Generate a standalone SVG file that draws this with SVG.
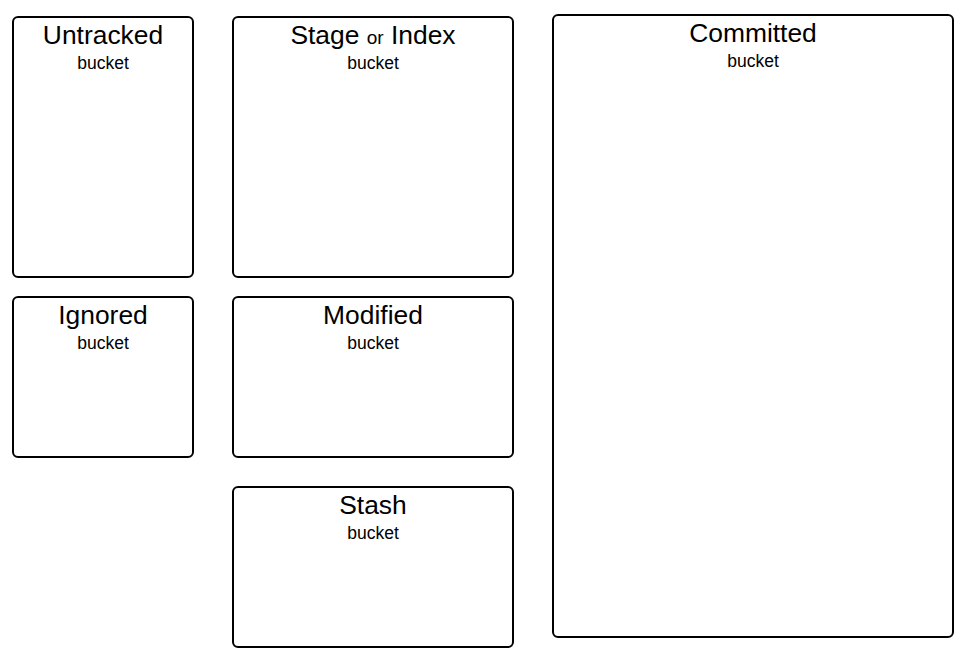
<svg xmlns="http://www.w3.org/2000/svg" width="976" height="659" viewBox="0 0 976 659">
<style>
.box{fill:#fff;stroke:#000;stroke-width:2}
.t{font-family:"Liberation Sans",Arial,sans-serif;font-size:26.4px;text-anchor:middle;fill:#000}
.s{font-family:"Liberation Sans",Arial,sans-serif;font-size:17.5px;text-anchor:middle;fill:#000}
.o{font-size:19px}
</style>
<rect width="976" height="659" fill="#fff"/>
<g id="untracked"><rect class="box" x="13" y="17" width="180" height="260" rx="5"/><text class="t" x="103" y="44">Untracked</text><text class="s" x="103" y="69">bucket</text></g>
<g id="stage"><rect class="box" x="233" y="17" width="280" height="260" rx="5"/><text class="t" x="373" y="44">Stage <tspan class="o">or</tspan> Index</text><text class="s" x="373" y="69">bucket</text></g>
<g id="committed"><rect class="box" x="553" y="15" width="400" height="622" rx="5"/><text class="t" x="753" y="42">Committed</text><text class="s" x="753" y="67">bucket</text></g>
<g id="ignored"><rect class="box" x="13" y="297" width="180" height="160" rx="5"/><text class="t" x="103" y="324">Ignored</text><text class="s" x="103" y="349">bucket</text></g>
<g id="modified"><rect class="box" x="233" y="297" width="280" height="160" rx="5"/><text class="t" x="373" y="324">Modified</text><text class="s" x="373" y="349">bucket</text></g>
<g id="stash"><rect class="box" x="233" y="487" width="280" height="160" rx="5"/><text class="t" x="373" y="514">Stash</text><text class="s" x="373" y="539">bucket</text></g>
<g id="connectors"/>
</svg>
